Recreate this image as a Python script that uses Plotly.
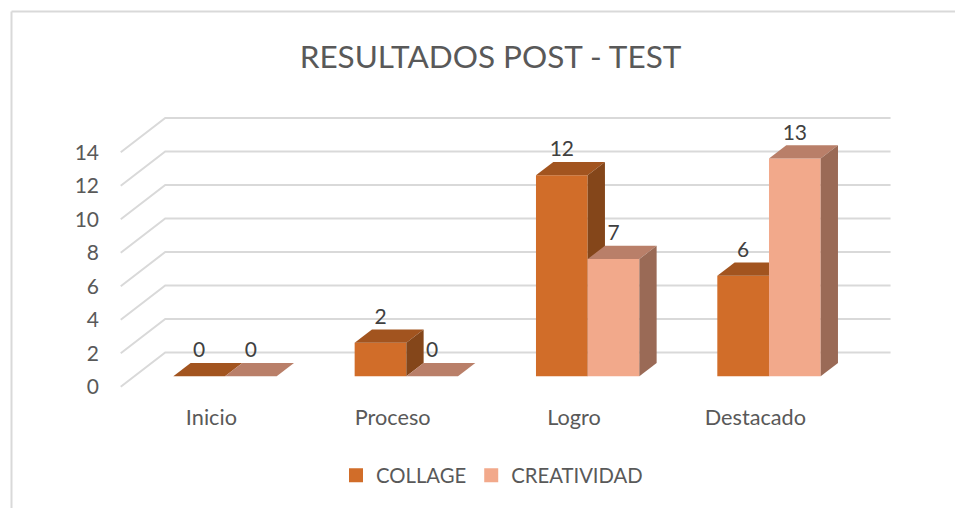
import plotly.graph_objects as go

# ---- data ----
categories = ["Inicio", "Proceso", "Logro", "Destacado"]
collage = [0, 2, 12, 6]
creatividad = [0, 0, 7, 13]
y_ticks = [0, 2, 4, 6, 8, 10, 12, 14]
title_text = "RESULTADOS POST - TEST"

# ---- style / geometry ----
W, H = 955, 508
L, R, T, B = 100, 900, 100, 402      # plot box in page pixels
CX0, CW = 225.0, 181.33              # px of first category centre, px per category
Y0, YU = 376.3, 16.75                # px of value 0 on bar front plane, px per unit
x_range = [(L - CX0) / CW, (R - CX0) / CW]
y_range = [(Y0 - B) / YU, (Y0 - T) / YU]
BAR_W = 0.285
DEPTH_X, DEPTH_Y = 17.3 / CW, 13.2 / YU       # bar depth in axis units
WALL_FX, WALL_FY = -13.6 / CW, -10.4 / YU     # front of walls relative to bars
WALL_BX, WALL_BY = 30.9 / CW, 23.8 / YU       # back of walls relative to bars
LABEL_DY = 24.2 / YU
GRID = "#D9D9D9"
TXT = "#595959"
FONT = "Lato, Carlito, 'Open Sans', sans-serif"
C1 = ("#D16D29", "#A2541F", "#84461A")
C2 = ("#F2A98B", "#B97F69", "#9A6A56")

fig = go.Figure()

# gridlines: side wall + back wall (lowest subplot, beneath every bar)
gx, gy = [], []
n = len(categories)
for t in y_ticks:
    gx += [-0.5 + WALL_FX, -0.5 + WALL_BX, n - 0.5 + WALL_BX, None]
    gy += [t + WALL_FY, t + WALL_BY, t + WALL_BY, None]
fig.add_trace(go.Scatter(x=gx, y=gy, mode="lines", line=dict(color=GRID, width=2),
                         hoverinfo="skip", showlegend=False))


def add_series(name, values, offset, colors, xa, ya):
    xs = [i + offset for i in range(len(values))]
    fig.add_trace(go.Bar(x=xs, y=values, width=BAR_W, name=name, showlegend=False,
                         marker=dict(color=colors[0], line=dict(width=0)),
                         xaxis=xa, yaxis=ya))
    for xc, v in zip(xs, values):
        xl, xr = xc - BAR_W / 2, xc + BAR_W / 2
        # top face
        fig.add_trace(go.Scatter(
            x=[xl, xr, xr + DEPTH_X, xl + DEPTH_X, xl],
            y=[v, v, v + DEPTH_Y, v + DEPTH_Y, v],
            mode="lines", fill="toself", fillcolor=colors[1], line=dict(width=0),
            hoverinfo="skip", showlegend=False, xaxis=xa, yaxis=ya))
        # side face
        if v > 0:
            fig.add_trace(go.Scatter(
                x=[xr, xr + DEPTH_X, xr + DEPTH_X, xr, xr],
                y=[0, DEPTH_Y, v + DEPTH_Y, v, 0],
                mode="lines", fill="toself", fillcolor=colors[2], line=dict(width=0),
                hoverinfo="skip", showlegend=False, xaxis=xa, yaxis=ya))
    return xs


xs1 = add_series("COLLAGE", collage, -BAR_W / 2, C1, "x2", "y2")
xs2 = add_series("CREATIVIDAD", creatividad, BAR_W / 2, C2, "x3", "y3")

# data labels
fig.add_trace(go.Scatter(
    x=xs1 + xs2, y=[v + LABEL_DY for v in collage + creatividad],
    text=[str(v) for v in collage + creatividad], mode="text",
    textposition="middle center",
    textfont=dict(family=FONT, size=21, color="#404040"),
    hoverinfo="skip", showlegend=False, xaxis="x3", yaxis="y3"))

# legend entries
for name, col in (("COLLAGE", C1[0]), ("CREATIVIDAD", C2[0])):
    fig.add_trace(go.Scatter(x=[None], y=[None], mode="markers", name=name,
                             marker=dict(symbol="square", size=14, color=col),
                             xaxis="x3", yaxis="y3"))

fig.update_layout(
    width=W, height=H, autosize=False,
    paper_bgcolor="white", plot_bgcolor="rgba(0,0,0,0)",
    margin=dict(l=L, r=W - R, t=T, b=H - B, pad=0),
    barmode="overlay",
    font=dict(family=FONT, color=TXT),
    title=dict(text=title_text, xref="container", yref="container",
               x=490.5 / W, xanchor="center", y=1 - 57 / H, yanchor="middle",
               font=dict(family=FONT, size=31.5, color=TXT)),
    xaxis=dict(range=x_range, showgrid=False, zeroline=False, showline=False,
               tickmode="array", tickvals=[i + WALL_FX for i in range(n)],
               ticktext=categories, ticks="", ticklen=0,
               tickfont=dict(family=FONT, size=21.7, color=TXT)),
    yaxis=dict(range=y_range, showgrid=False, zeroline=False, showline=False,
               tickmode="array", tickvals=[t + WALL_FY for t in y_ticks],
               ticktext=[str(t) for t in y_ticks], ticks="", ticklen=0,
               tickfont=dict(family=FONT, size=21, color=TXT)),
    xaxis2=dict(range=x_range, overlaying="x", visible=False),
    yaxis2=dict(range=y_range, overlaying="y", visible=False),
    xaxis3=dict(range=x_range, overlaying="x", visible=False),
    yaxis3=dict(range=y_range, overlaying="y", visible=False),
    legend=dict(orientation="h", x=336 / W, xanchor="left", xref="container",
                y=1 - 475.5 / H, yanchor="middle", yref="container",
                font=dict(family=FONT, size=20.3, color=TXT),
                itemwidth=30, bgcolor="rgba(0,0,0,0)"),
    shapes=[
        dict(type="line", xref="paper", yref="paper",
             x0=(11.5 - L) / (R - L), x1=(955 - L) / (R - L),
             y0=(B - 11.5) / (B - T), y1=(B - 11.5) / (B - T),
             line=dict(color=GRID, width=2)),
        dict(type="line", xref="paper", yref="paper",
             x0=(11.5 - L) / (R - L), x1=(11.5 - L) / (R - L),
             y0=(B - 11.5) / (B - T), y1=(B - 508) / (B - T),
             line=dict(color=GRID, width=2)),
    ],
)

fig.write_html("out.html", config=dict(displayModeBar=False),
               post_script="document.body.style.margin='0';")
